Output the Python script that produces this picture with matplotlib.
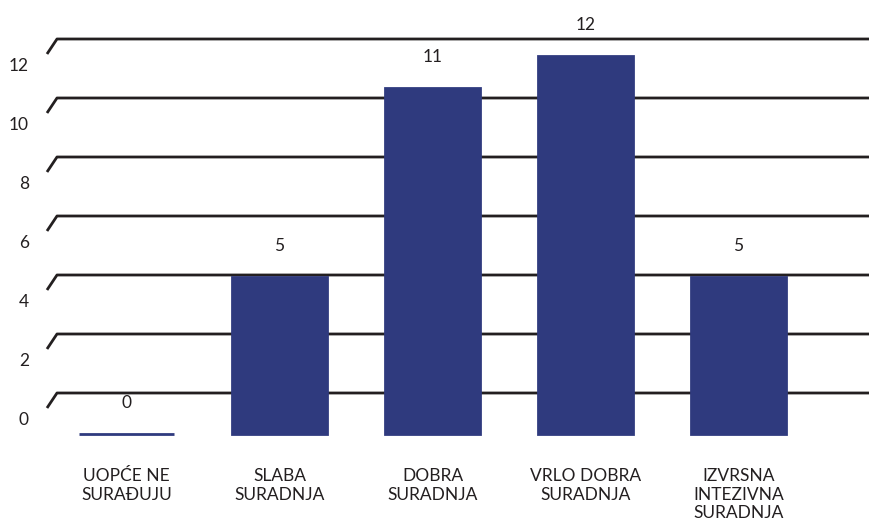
import matplotlib.pyplot as plt
import numpy as np

plt.rcParams["font.family"] = ["Lato", "DejaVu Sans"]

categories = ["UOPĆE NE\nSURAĐUJU", "SLABA\nSURADNJA", "DOBRA\nSURADNJA",
              "VRLO DOBRA\nSURADNJA", "IZVRSNA\nINTEZIVNA\nSURADNJA"]
values = [0, 5, 11, 12, 5]
y_ticks = [0, 2, 4, 6, 8, 10, 12]

bar_color = "#2f3a7e"
text_color = "#231f20"

W, H = 870, 526
fig = plt.figure(figsize=(W / 100, H / 100), dpi=100)
fig.patch.set_facecolor("white")

# back wall: gridlines with the slanted 3d floor edge on the left
back = fig.add_axes([0, 0, 1, 1])
back.set_xlim(0, W)
gscale = 29.5  # px per unit on the back wall
back.set_ylim(-(H - 393) / gscale, 393 / gscale)
back.axis("off")
slant = 15 / gscale
for t in y_ticks:
    back.plot([47, 57, W], [t - slant, t, t], color=text_color, lw=2,
              solid_capstyle="butt")
    back.text(29, t - 27 / gscale, str(t), ha="right", va="center",
              fontsize=12.5, color=text_color)

# front: bars
front = fig.add_axes([0, 0, 1, 1])
front.patch.set_alpha(0)
fscale = 31.5  # px per unit at the bar front
step = 153
x0 = 126.5
front.set_xlim(-x0 / step, (W - x0) / step)
front.set_ylim(-(H - 434) / fscale, 434 / fscale)
front.axis("off")

x = np.arange(len(categories))
front.bar(x, values, width=0.62, color=bar_color, edgecolor=bar_color, lw=2)
for xi, v, c in zip(x, values, categories):
    front.annotate(str(v), (xi, v), xytext=(0, 22), textcoords="offset points",
                   ha="center", va="center", fontsize=12.5, color=text_color)
    front.text(xi, -34 / fscale, c, ha="center", va="top", fontsize=12.5,
               color=text_color, linespacing=1.2)

fig.savefig("out.png", dpi=100)
